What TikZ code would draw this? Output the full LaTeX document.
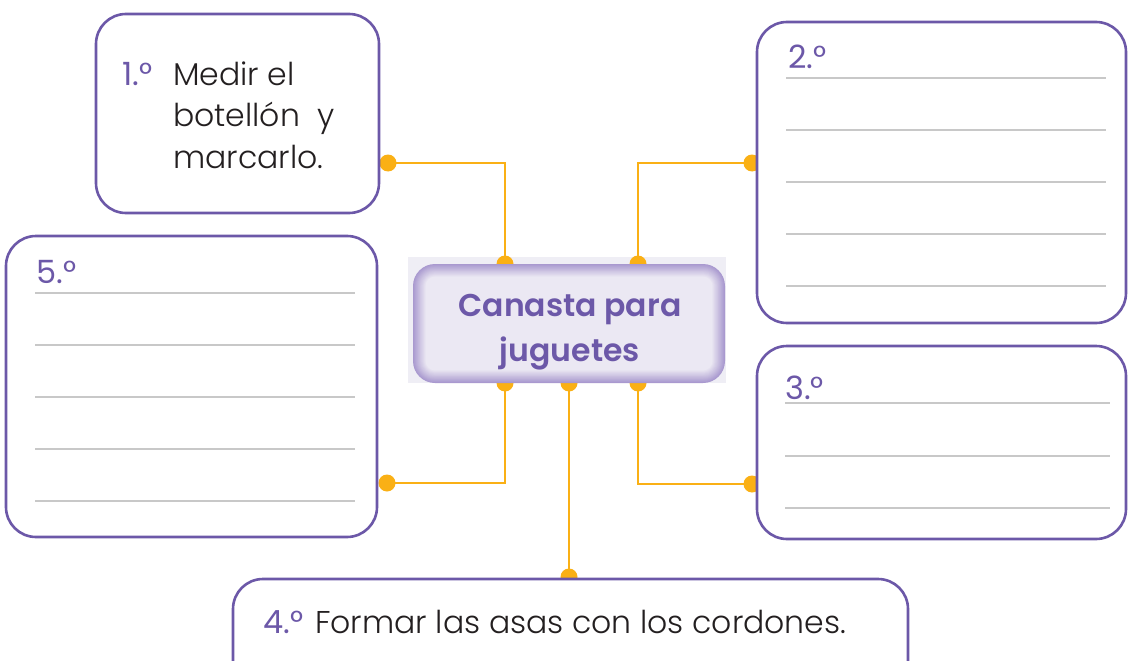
\documentclass[tikz,border=0pt]{standalone}
\usepackage{fontspec}
\setmainfont{Poppins}
\newfontfamily\lightf{Poppins Light}
\newfontfamily\semif{Poppins SemiBold}
\definecolor{pur}{HTML}{6C58A8}
\definecolor{org}{HTML}{FAB015}
\definecolor{gl}{HTML}{C8C8C8}
\definecolor{txt}{HTML}{231F20}
\definecolor{glowout}{HTML}{A999CF}
\definecolor{glowin}{HTML}{EBE8F3}
\definecolor{bgc}{HTML}{EFEEF5}
\begin{document}
\begin{tikzpicture}[x=1pt,y=-1pt,
  box/.style={draw=pur, line width=2.6pt, fill=white, rounded corners=30pt, inner sep=0pt},
  conn/.style={draw=org, line width=2.5pt},
  dot/.style={circle, fill=org, inner sep=0pt, minimum size=17pt},
  rule/.style={draw=gl, line width=2pt},
  num/.style={text=pur, font=\fontsize{32}{32}\selectfont, anchor=base west, inner sep=0pt},
  body/.style={text=txt, font=\lightf\fontsize{31.5}{31.5}\selectfont, anchor=base west, inner sep=0pt},
  title/.style={text=pur, font=\semif\fontsize{31.5}{45}\selectfont, align=center, inner sep=0pt},
]
\useasboundingbox (0,0) rectangle (1128,661);
\clip (0,0) rectangle (1128,661);
\fill[white] (0,0) rectangle (1128,661);
% light background behind centre box
\fill[bgc] (408,257) rectangle (726,383);
% dots
\node[dot] (d1) at (388,163) {};
\node[dot] (d2) at (752,163) {};
\node[dot] (d3) at (752,484) {};
\node[dot] (d4) at (569,577) {};
\node[dot] (d5) at (387,483) {};
\node[dot] (t1) at (505,264) {};
\node[dot] (t2) at (638,264) {};
\node[dot] (u1) at (505,383) {};
\node[dot] (u2) at (569,383) {};
\node[dot] (u3) at (638,383) {};
% connectors
\draw[conn] (d1.center) -| (t1.center);
\draw[conn] (d2.center) -| (t2.center);
\draw[conn] (u1.center) |- (d5.center);
\draw[conn] (u3.center) |- (d3.center);
\draw[conn] (u2.center) -- (d4.center);
% centre box with inner glow
\foreach \i in {0,...,14}{
  \pgfmathsetmacro{\p}{100-\i*100/14}
  \pgfmathsetmacro{\o}{\i*0.9}
  \pgfmathsetmacro{\r}{max(22-\i*0.9,4)}
  \fill[glowout!\p!glowin, rounded corners=\r pt] (413+\o,264+\o) rectangle (725-\o,383-\o);
}
\node[title] (c) at (570,332) {Canasta para\\juguetes};
% boxes
\node[box, minimum width=283pt, minimum height=199pt] (b1) at (237.5,113.5) {};
\node[box, minimum width=369pt, minimum height=301pt] (b2) at (941.5,172.5) {};
\node[box, minimum width=369pt, minimum height=193pt] (b3) at (941.5,442.5) {};
\node[box, minimum width=371pt, minimum height=301pt] (b5) at (191.5,386.5) {};
\node[box, minimum width=675pt, minimum height=130pt] (b4) at (570.5,644) {};
% box 1 text
\node[num] (n1) at (122,86) {1.°};
\node[body] (l1a) at (173,86) {Medir el};
\node[body] (l1b) at (173,127) {botellón\ \ y};
\node[body] (l1c) at (173,168) {marcarlo.};
% box 2
\node[num] (n2) at (788,69) {2.°};
\foreach \y in {78,130,182,234,286} \draw[rule] (786,\y) -- (1106,\y);
% box 3
\node[num] (n3) at (785,399) {3.°};
\foreach \y in {403,456,508} \draw[rule] (785,\y) -- (1110,\y);
% box 5
\node[num] (n5) at (36,283) {5.°};
\foreach \y in {293,345,397,449,501} \draw[rule] (35,\y) -- (355,\y);
% box 4
\node[num] (n4) at (263,633) {4.°};
\node[body] (l4) at (315,633) {Formar las asas con los cordones.};
\end{tikzpicture}
\end{document}
